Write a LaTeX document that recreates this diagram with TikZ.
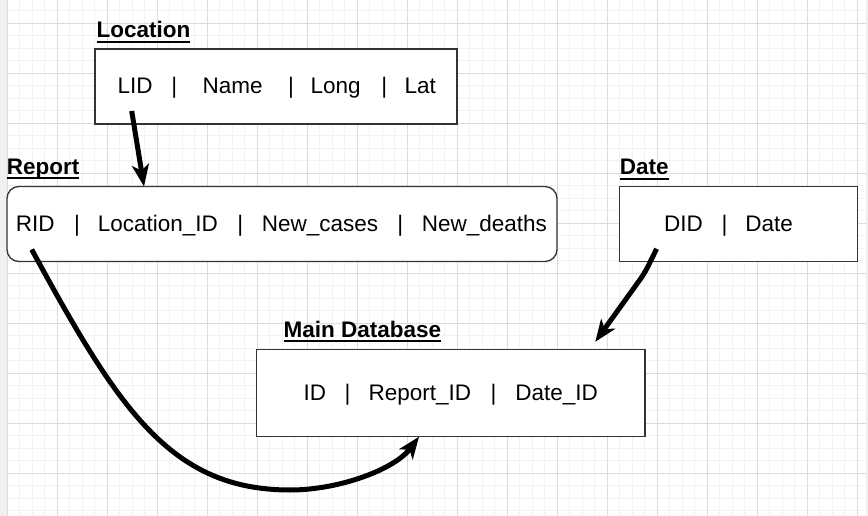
\documentclass[tikz,border=0pt]{standalone}
\usepackage{fontspec}
\setmainfont{Liberation Sans}
\usetikzlibrary{arrows.meta,calc}
\newcommand\myul[1]{\setbox0\hbox{#1}\rlap{\rule[-5pt]{\wd0}{2pt}}\box0}
\newcommand\bsep[2]{\hspace{#1pt}|\hspace{#2pt}}
\definecolor{gridminor}{HTML}{F2F2F2}
\definecolor{gridmajor}{HTML}{DCDCDC}
\definecolor{bandgray}{HTML}{F0F0F0}
\definecolor{boxline}{HTML}{333333}
\tikzset{
  tbox/.style={draw=boxline, line width=1.3pt, fill=white, inner sep=0pt, outer sep=0pt},
  ttl/.style={anchor=base west, inner sep=0pt, font=\fontsize{22.5}{27}\selectfont\bfseries},
  rowtext/.style={anchor=base west, inner sep=0pt, font=\fontsize{22.5}{27}\selectfont},
  link/.style={line width=5pt, -{Stealth[length=22pt,width=17pt,inset=6pt]}},
  minorline/.style={draw=gridminor, line width=1pt},
  majorline/.style={draw=gridmajor, line width=1pt},
}
\begin{document}
\begin{tikzpicture}[x=1pt,y=-1pt]
\useasboundingbox (0,0) rectangle (868,516);
\fill[white] (0,0) rectangle (868,516);
% page bands
\fill[bandgray] (0,0) rectangle (7,516);
\fill[bandgray] (866,0) rectangle (868,516);
% grid
\foreach \i in {0,...,68} { \path[minorline] ({7.3+12.5*\i},0) -- ++(0,516); }
\foreach \i in {0,...,40} { \path[minorline] (7,{10.8+12.5*\i}) -- (866,{10.8+12.5*\i}); }
\foreach \i in {0,...,17} { \path[majorline] ({7.3+50*\i},0) -- ++(0,516); }
\foreach \i in {0,...,9} { \path[majorline] (7,{23.3+50*\i}) -- (866,{23.3+50*\i}); }

% boxes
\node[tbox, minimum width=362pt, minimum height=75pt] (loc) at (276,86.5) {};
\node[tbox, rounded corners=12pt, minimum width=550pt, minimum height=75pt] (rep) at (282,224) {};
\node[tbox, minimum width=238pt, minimum height=75pt] (dat) at (738.4,224) {};
\node[tbox, minimum width=388.3pt, minimum height=87.4pt] (mdb) at (450.9,393) {};

% titles
\node[ttl] (loctitle) at (96.4,37.7) {\myul{Location}};
\node[ttl] (reptitle) at (6.7,174.3) {\myul{Report}};
\node[ttl] (dattitle) at (619.7,175) {\myul{Date}};
\node[ttl] (mdbtitle) at (283.4,337.3) {\myul{Main Database}};

% row texts
\node[rowtext] (loctext) at (117.3,94) {LID\bsep{18.8}{25.4}Name\bsep{25.5}{16.7}Long\bsep{20.8}{17.4}Lat};
\node[rowtext] (reptext) at (15.6,232) {RID\bsep{19.5}{18.0}Location\_ID\bsep{19.4}{18.7}New\_cases\bsep{19.2}{18.7}New\_deaths};
\node[rowtext] (dattext) at (664,232) {DID\bsep{18.7}{17.8}Date};
\node[rowtext] (mdbtext) at (303.3,400) {ID\bsep{18.6}{18.1}Report\_ID\bsep{19.6}{18.8}Date\_ID};

% connector end points
\coordinate (locs) at ($(loc.north west)+(36.7,62)$);
\coordinate (rept) at ($(rep.north west)+(137,0)$);
\coordinate (reps) at ($(rep.north west)+(24.7,63)$);
\coordinate (mdbb) at ($(mdb.north west)+(162.3,87.4)$);
\coordinate (dats) at ($(dat.north west)+(37.2,62.3)$);
\coordinate (datk) at ($(dat.north west)+(25.5,86.3)$);
\coordinate (mdbt) at ($(mdb.north west)+(338.5,-7.5)$);
\coordinate (curvelow) at (290,490);

% connectors
\draw[link] (locs) -- (rept);
\draw[link, rounded corners=8pt] (dats) -- (datk) -- (mdbt);
\draw[link] (reps) .. controls (118,408) and (170,490) .. (curvelow)
                    .. controls (340,490) and (395,469) .. (mdbb);
\end{tikzpicture}
\end{document}
